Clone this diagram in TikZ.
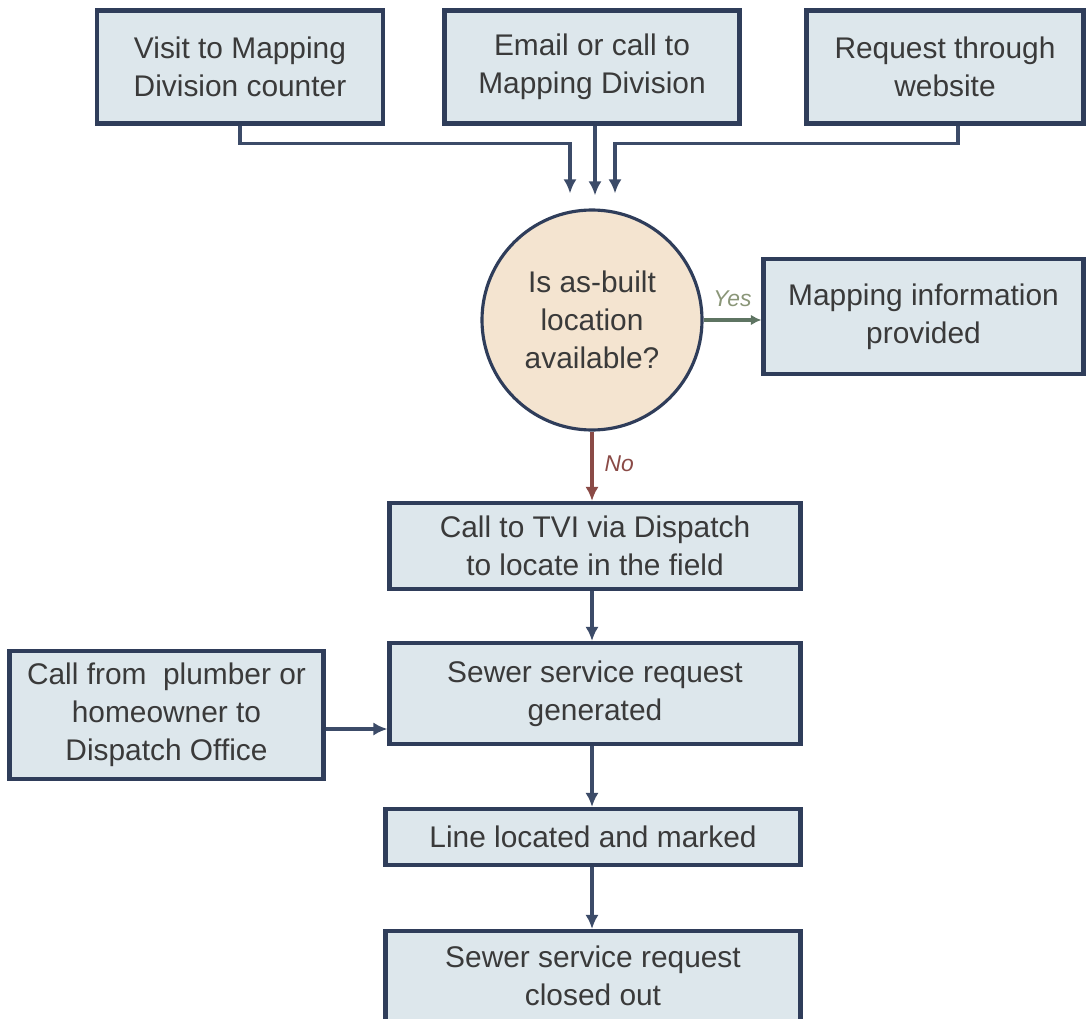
\documentclass[tikz,border=0pt]{standalone}
\usepackage{fontspec}
\setmainfont{Liberation Sans}
\usepackage{xcolor}
\usepackage{tikz}
\usetikzlibrary{shapes,calc,positioning,arrows.meta}

\definecolor{boxfill}{HTML}{DDE7EC}
\definecolor{boxline}{HTML}{2F3D5A}
\definecolor{askfill}{HTML}{F4E4D0}
\definecolor{flowline}{HTML}{3C4B68}
\definecolor{yesline}{HTML}{5E7462}
\definecolor{yestext}{HTML}{8A9678}
\definecolor{noline}{HTML}{8A4A46}
\definecolor{txt}{HTML}{3A3A3A}

\tikzset{
procbox/.style={
  draw=boxline,
  fill=boxfill,
  line width=2.3pt,
  align=center,
  text=txt,
  inner sep=2pt,
  font=\fontsize{17}{21.5}\selectfont
  },
askcircle/.style={
  draw=boxline,
  fill=askfill,
  circle,
  line width=1.8pt,
  align=center,
  text=txt,
  minimum size=4.4cm,
  font=\fontsize{17}{21.5}\selectfont
  },
flow/.style={
  ->,
  draw=flowline,
  line width=2.1pt
  }
}

\begin{document}
\begin{tikzpicture}[>={Latex[length=8pt,width=7.5pt]}]
\useasboundingbox (0,0) rectangle (21.82,-20.38);
% the shapes
\node[procbox,minimum width=5.72cm,minimum height=2.26cm]
  at (4.80,-1.34) (visit)
  {Visit to Mapping\\Division counter};
\node[procbox,minimum width=5.90cm,minimum height=2.26cm]
  at (11.84,-1.34) (email)
  {Email or call to\\Mapping Division};
\node[procbox,minimum width=5.54cm,minimum height=2.26cm]
  at (18.90,-1.34) (web)
  {Request through\\website};
\node[askcircle]
  at (11.84,-6.40) (ask)
  {Is as-built\\location\\available?};
\node[procbox,minimum width=6.40cm,minimum height=2.30cm]
  at (18.47,-6.33) (mapinfo)
  {Mapping information\\provided};
\node[procbox,minimum width=8.22cm,minimum height=1.72cm]
  at (11.90,-10.92) (tvi)
  {Call to TVI via Dispatch\\to locate in the field};
\node[procbox,minimum width=8.22cm,minimum height=2.02cm]
  at (11.90,-13.87) (request)
  {Sewer service request\\generated};
\node[procbox,minimum width=6.28cm,minimum height=2.56cm]
  at (3.33,-14.30) (plumber)
  {Call from\ \ plumber or\\homeowner to\\Dispatch Office};
\node[procbox,minimum width=8.30cm,minimum height=1.12cm]
  at (11.86,-16.74) (marked)
  {Line located and marked};
\node[procbox,minimum width=8.30cm,minimum height=1.80cm]
  at (11.86,-19.52) (closed)
  {Sewer service request\\closed out};

%the arrows
\draw[flow,shorten >=0.3cm]
  (visit.south) -- ++(0,-0.36) -| ([xshift=-0.44cm]ask.north);
\draw[flow,shorten >=0.26cm]
  ([xshift=0.06cm]email.south) -- ([xshift=0.06cm]ask.north);
\draw[flow,shorten >=0.3cm]
  ([xshift=0.26cm]web.south) -- ++(0,-0.36) -| ([xshift=0.46cm]ask.north);
\draw[->,draw=yesline,line width=1.9pt,>={Latex[length=6pt,width=6pt]}]
  (ask.east) --
    node[anchor=south,yshift=0.12cm,text=yestext,font=\fontsize{13}{15}\selectfont\itshape] {Yes}
  (ask.east -| mapinfo.west);
\draw[->,draw=noline,line width=1.9pt]
  (ask.south) --
    node[anchor=west,xshift=0.1cm,yshift=0.05cm,text=noline,font=\fontsize{13}{15}\selectfont\itshape] {No}
  (ask.south |- tvi.north);
\draw[flow] (tvi.south -| ask.south) -- (request.north -| ask.south);
\draw[flow] (plumber.east) ++(0,-0.28) coordinate (pl) -- (pl -| request.west);
\draw[flow] (request.south -| ask.south) -- (marked.north -| ask.south);
\draw[flow] (marked.south -| ask.south) -- (closed.north -| ask.south);
\end{tikzpicture}
\end{document}
